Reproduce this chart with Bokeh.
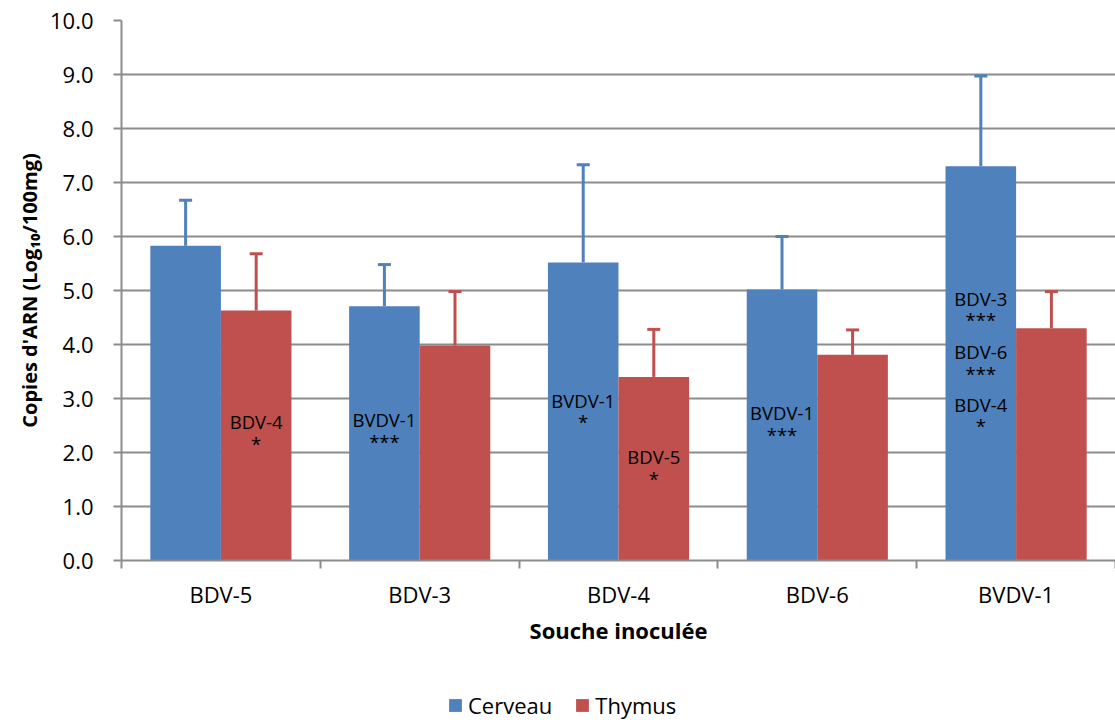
from bokeh.plotting import figure
from bokeh.layouts import column
from bokeh.models import Range1d, FixedTicker, Legend, LegendItem, ColumnDataSource
from bokeh.core.properties import value
from bokeh.embed import file_html
from bokeh.resources import INLINE

categories = ["BDV-5", "BDV-3", "BDV-4", "BDV-6", "BVDV-1"]
series_names = ["Cerveau", "Thymus"]
cerveau = [5.83, 4.71, 5.52, 5.02, 7.30]
cerveau_err = [6.67, 5.48, 7.33, 6.00, 8.97]
thymus = [4.63, 3.98, 3.40, 3.81, 4.30]
thymus_err = [5.68, 4.98, 4.28, 4.27, 4.98]

# annotations: (category index, series, text, y)
ann_cat = [0, 0, 1, 1, 2, 2, 2, 2, 3, 3, 4, 4, 4, 4, 4, 4]
ann_series = ["T", "T", "C", "C", "C", "C", "T", "T", "C", "C", "C", "C", "C", "C", "C", "C"]
ann_text = ["BDV-4", "*", "BVDV-1", "***", "BVDV-1", "*", "BDV-5", "*", "BVDV-1", "***",
            "BDV-3", "***", "BDV-6", "***", "BDV-4", "*"]
ann_y = [2.57, 2.17, 2.61, 2.20, 2.96, 2.57, 1.93, 1.52, 2.74, 2.33,
         4.85, 4.46, 3.87, 3.46, 2.89, 2.50]

BLUE = "#4F81BD"
RED = "#C0504D"
GRID = "#8C8C8C"
FONT = "Open Sans"

W = 1115
H_MAIN = 680
H_LEG = 40

p = figure(width=W, height=H_MAIN, output_backend="svg", toolbar_location=None,
           x_range=Range1d(0, 5.0), y_range=Range1d(0, 10))
p.min_border_left = 121
p.min_border_right = 0
p.min_border_top = 20
p.min_border_bottom = H_MAIN - 560
p.outline_line_color = None
p.background_fill_color = "white"
p.border_fill_color = "white"

centers = [i + 0.5 for i in range(len(categories))]
bw = 0.355
xc = [c - bw / 2 for c in centers]
xt = [c + bw / 2 for c in centers]

src_c = ColumnDataSource(dict(x=xc, top=cerveau, err=cerveau_err))
src_t = ColumnDataSource(dict(x=xt, top=thymus, err=thymus_err))

p.xgrid.grid_line_color = None
p.ygrid.grid_line_color = GRID
p.ygrid.grid_line_width = 2
p.ygrid.ticker = FixedTicker(ticks=[i for i in range(0, 11)])

p.vbar(x="x", top="top", bottom=0, width=bw, source=src_c, fill_color=BLUE, line_color=None)
p.vbar(x="x", top="top", bottom=0, width=bw, source=src_t, fill_color=RED, line_color=None)

for src, col in ((src_c, BLUE), (src_t, RED)):
    p.segment(x0="x", y0="top", x1="x", y1="err", source=src, line_color=col, line_width=3)
    p.scatter(x="x", y="err", source=src, marker="dash", size=13, line_color=col, line_width=3)

ax = [xc[i] if s == "C" else xt[i] for i, s in zip(ann_cat, ann_series)]
p.text(x=ax, y=ann_y, text=ann_text, text_align="center", text_baseline="middle",
       text_font=value(FONT), text_font_size="18.5px", text_color="black")

p.yaxis.ticker = FixedTicker(ticks=[i for i in range(0, 11)])
p.yaxis.major_label_overrides = {i: f"{i:.1f}" for i in range(0, 11)}
p.yaxis.axis_line_color = GRID
p.yaxis.axis_line_width = 2
p.yaxis.major_tick_line_color = GRID
p.yaxis.major_tick_line_width = 2
p.yaxis.major_tick_out = 8
p.yaxis.major_tick_in = 0
p.yaxis.minor_tick_line_color = None
p.yaxis.major_label_text_font = FONT
p.yaxis.major_label_text_font_size = "22px"
p.yaxis.major_label_text_color = "black"
p.yaxis.major_label_standoff = 20
p.yaxis.axis_label = "Copies d'ARN (Log\u2081\u2080/100mg)"
p.yaxis.axis_label_text_font = FONT
p.yaxis.axis_label_text_font_style = "bold"
p.yaxis.axis_label_text_font_size = "20px"
p.yaxis.axis_label_text_color = "black"
p.yaxis.axis_label_standoff = 4

p.xaxis.ticker = FixedTicker(ticks=centers, minor_ticks=[0, 1, 2, 3, 4, 5])
p.xaxis.major_label_overrides = {c: lab for c, lab in zip(centers, categories)}
p.xaxis.axis_line_color = GRID
p.xaxis.axis_line_width = 2
p.xaxis.major_tick_line_color = None
p.xaxis.major_tick_out = 0
p.xaxis.major_tick_in = 0
p.xaxis.minor_tick_line_color = GRID
p.xaxis.minor_tick_line_width = 2
p.xaxis.minor_tick_out = 8
p.xaxis.minor_tick_in = 0
p.xaxis.major_label_text_font = FONT
p.xaxis.major_label_text_font_size = "22px"
p.xaxis.major_label_text_color = "black"
p.xaxis.major_label_standoff = 10
p.xaxis.axis_label = "Souche inoculée"
p.xaxis.axis_label_text_font = FONT
p.xaxis.axis_label_text_font_style = "bold"
p.xaxis.axis_label_text_font_size = "22px"
p.xaxis.axis_label_text_color = "black"
p.xaxis.axis_label_standoff = 3

# legend strip
lg = figure(width=W, height=H_LEG, output_backend="svg", toolbar_location=None,
            x_range=Range1d(0, 1), y_range=Range1d(0, 1),
            x_axis_type=None, y_axis_type=None, min_border=0)
lg.outline_line_color = None
lg.background_fill_color = "white"
lg.border_fill_color = "white"
lg.xgrid.grid_line_color = None
lg.ygrid.grid_line_color = None
flat = ColumnDataSource(dict(x=[0.5], top=[0.0]))
d1 = lg.vbar(x="x", top="top", bottom=0, width=0.01, source=flat, fill_color=BLUE, line_color=None)
d2 = lg.vbar(x="x", top="top", bottom=0, width=0.01, source=flat, fill_color=RED, line_color=None)
legend = Legend(items=[LegendItem(label=series_names[0], renderers=[d1]),
                       LegendItem(label=series_names[1], renderers=[d2])],
                orientation="horizontal", location=(326, 0))
legend.border_line_color = None
legend.background_fill_alpha = 0
legend.label_text_font = FONT
legend.label_text_font_size = "22px"
legend.label_text_color = "black"
legend.glyph_width = 16
legend.glyph_height = 16
legend.label_standoff = 5
legend.spacing = 22
legend.padding = 0
legend.margin = 0
lg.add_layout(legend, "center")

layout = column(p, lg, spacing=0)
open("out.html", "w").write(file_html(layout, INLINE))
